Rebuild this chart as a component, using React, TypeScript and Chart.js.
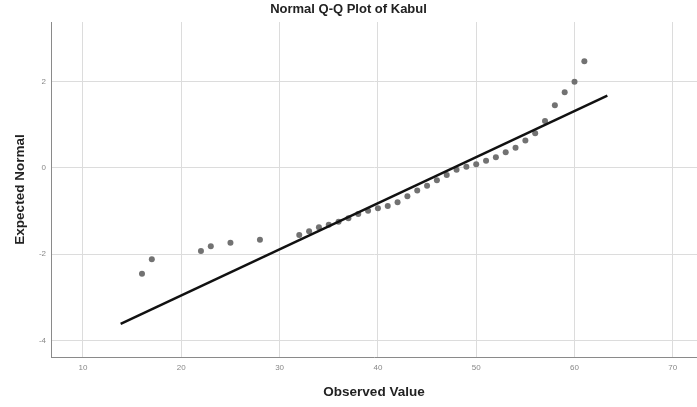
import React, { useEffect, useRef } from "react";
import { Chart, registerables } from "chart.js";

Chart.register(...registerables);

const chartTitle = "Normal Q-Q Plot of Kabul";
const xTitle = "Observed Value";
const yTitle = "Expected Normal";

const observed = [16, 17, 22, 23, 25, 28, 32, 33, 34, 35, 36, 37, 38, 39, 40, 41, 42, 43, 44, 45, 46, 47, 48, 49, 50, 51, 52, 53, 54, 55, 56, 57, 58, 59, 60, 61];
const expected = [-2.46, -2.12, -1.93, -1.82, -1.74, -1.67, -1.56, -1.47, -1.38, -1.32, -1.25, -1.17, -1.07, -1.0, -0.94, -0.89, -0.8, -0.66, -0.53, -0.42, -0.29, -0.17, -0.05, 0.02, 0.08, 0.16, 0.24, 0.36, 0.46, 0.63, 0.8, 1.08, 1.45, 1.75, 1.99, 2.47];

const lineX = [13.83, 63.34];
const lineY = [-3.62, 1.67];

const xTicks = [10, 20, 30, 40, 50, 60, 70];
const yTicks = [-4, -2, 0, 2];

const FONT = "'Liberation Sans', Arial, sans-serif";

export default function App() {
  const ref = useRef<HTMLCanvasElement>(null);

  useEffect(() => {
    const canvas = ref.current;
    if (!canvas) return;
    const chart = new Chart(canvas, {
      type: "scatter",
      data: {
        datasets: [
          {
            type: "line",
            data: lineX.map((x, i) => ({ x, y: lineY[i] })),
            borderColor: "#111111",
            borderWidth: 2.5,
            pointRadius: 0,
            fill: false,
            order: 0,
          },
          {
            data: observed.map((x, i) => ({ x, y: expected[i] })),
            backgroundColor: "#727272",
            borderColor: "#727272",
            borderWidth: 0,
            pointRadius: 3,
            order: 1,
          },
        ],
      } as any,
      options: {
        animation: false,
        responsive: false,
        devicePixelRatio: 1,
        layout: { padding: 0, autoPadding: false },
        plugins: {
          legend: { display: false },
          tooltip: { enabled: false },
          title: {
            display: true,
            text: chartTitle,
            color: "#222222",
            font: { family: FONT, size: 13, weight: "bold" },
            padding: { top: 2, bottom: 4.4 },
          },
        },
        scales: {
          x: {
            type: "linear",
            min: 6.745,
            max: 72.46,
            afterBuildTicks: (s: any) => {
              s.ticks = xTicks.map((v) => ({ value: v }));
            },
            afterFit: (s: any) => {
              s.height = 50;
            },
            grid: { color: "#dcdcdc", drawTicks: false, lineWidth: 1 },
            border: { color: "#8a8a8a", width: 1 },
            ticks: {
              font: { family: FONT, size: 8 },
              color: "#888888",
              padding: 6,
              maxRotation: 0,
            },
            title: {
              display: true,
              text: xTitle,
              color: "#222222",
              font: { family: FONT, size: 13.5, weight: "bold" },
              padding: { top: 0, bottom: 7 },
            },
          },
          y: {
            type: "linear",
            min: -4.387,
            max: 3.377,
            afterBuildTicks: (s: any) => {
              s.ticks = yTicks.map((v) => ({ value: v }));
            },
            afterFit: (s: any) => {
              s.width = 51;
            },
            grid: { color: "#dcdcdc", drawTicks: false, lineWidth: 1 },
            border: { color: "#8a8a8a", width: 1 },
            ticks: {
              font: { family: FONT, size: 8 },
              color: "#888888",
              padding: 5,
            },
            title: {
              display: true,
              text: yTitle,
              color: "#222222",
              font: { family: FONT, size: 13.5, weight: "bold" },
              padding: { top: 12, bottom: 0 },
            },
          },
        },
      } as any,
    });
    return () => chart.destroy();
  }, []);

  return (
    <div style={{ position: "fixed", left: 0, top: 0, width: 697, height: 407, background: "#ffffff" }}>
      <canvas ref={ref} width={697} height={407} style={{ display: "block" }} />
    </div>
  );
}
